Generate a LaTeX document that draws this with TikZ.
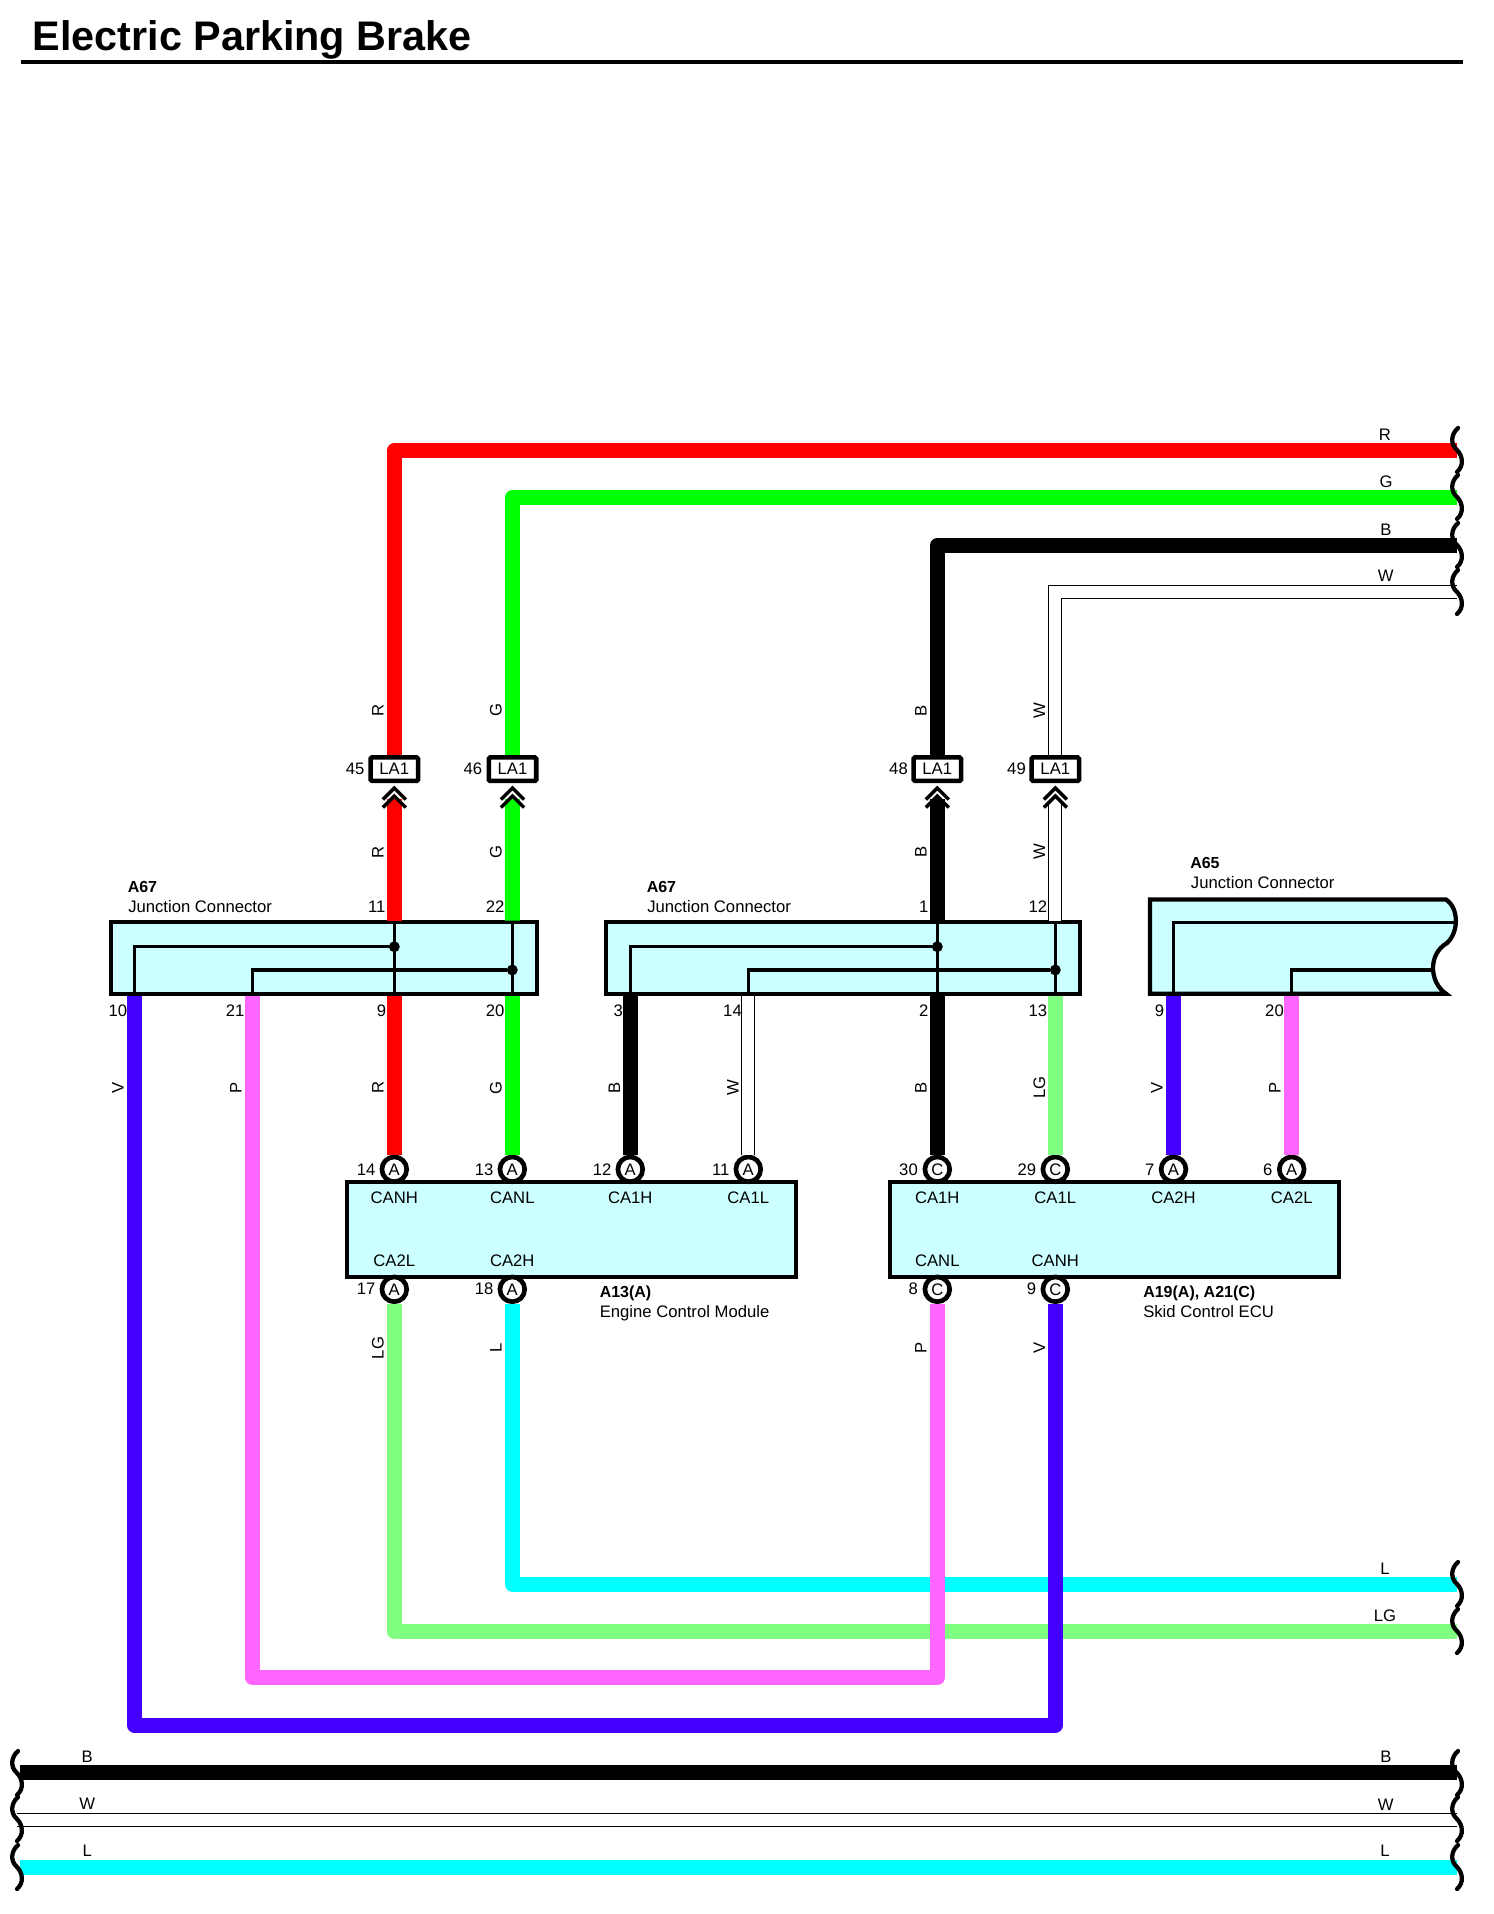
\documentclass[tikz,border=0pt]{standalone}
\usepackage{fontspec}
\setmainfont{Liberation Sans}
\usetikzlibrary{calc}

\definecolor{wireV}{HTML}{4400FF}
\definecolor{wireP}{HTML}{FF66FF}
\definecolor{wireLG}{HTML}{80FF80}
\definecolor{wireL}{HTML}{00FFFF}
\definecolor{boxfill}{HTML}{CCFFFF}

\tikzset{
    wire/.style={line width=11.25pt,line join=round},
    wirew/.style={line width=0.8pt,double=white,double distance=9pt},
    jline/.style={line width=2.3pt},
    jbox/.style={draw,line width=3.2pt,fill=boxfill,inner sep=0pt,minimum height=53.8pt},
    modbox/.style={draw,line width=3.2pt,fill=boxfill,inner sep=0pt,minimum width=336.5pt,minimum height=71pt},
    inbox/.style={draw,line width=3.4pt,fill=white,rounded corners=1pt,inner sep=0pt,minimum width=35.6pt,minimum height=17.6pt,font=\fontsize{12.5}{14}\selectfont},
    pin/.style={circle,draw,line width=3.5pt,fill=white,inner sep=0pt,minimum size=18.6pt,font=\fontsize{12.5}{14}\selectfont},
    jdot/.style={circle,fill=black,inner sep=0pt,minimum size=8.2pt},
    txt/.style={inner sep=0pt,text height=9pt,text depth=0pt,font=\fontsize{12.5}{14}\selectfont},
    ref/.style={txt,anchor=west,font=\fontsize{12}{14}\selectfont\bfseries},
    num/.style={txt,anchor=east,xshift=1pt},
    vlab/.style={txt,rotate=90},
    brk/.pic={\draw[line width=3.2pt,line cap=round] (1,-22) .. controls (-6,-16) and (-7,-6) .. (0,0) .. controls (6,6) and (7,16) .. (0,22);},
    chev/.pic={\draw[line width=2.6pt] (-11.5,16.5) -- (0,5) -- (11.5,16.5);
        \draw[line width=2.6pt] (-11.5,24.5) -- (0,13) -- (11.5,24.5);}
}

\begin{document}
\begin{tikzpicture}[x=0.75pt,y=-0.75pt]
    \useasboundingbox (0,0) rectangle (1494,1914);

    % Title
    \node[anchor=base west,inner sep=0pt,font=\fontsize{31}{36}\selectfont\bfseries] (title) at (32.5,50) {Electric Parking Brake};
    \coordinate (ruleL) at (21,62);
    \coordinate (ruleR) at (1462.5,62);
    \draw[line width=3.5pt] (ruleL) -- (ruleR);

    % Junction connectors
    \node[jbox,minimum width=319pt] (ja) at (324,957.8) {};
    \node[jbox,minimum width=355.5pt] (jb) at (842.7,957.8) {};
    \draw[line width=3.2pt,fill=boxfill,line cap=round] (1150,899.5) -- (1446,899.5)
        .. controls (1459,908) and (1459,932) .. (1447,943)
        .. controls (1428,954) and (1429,982) .. (1446,993.7) -- (1150,993.7) -- cycle;

    % Modules
    \node[modbox] (ecm) at (571.5,1229.5) {};
    \node[modbox] (skid) at (1114.5,1229.5) {};

    % Pins on the modules
    \node[pin] (a14) at (394.3,1169.3) {A};
    \node[pin] (a13) at (512.3,1169.3) {A};
    \node[pin] (a12) at (630.3,1169.3) {A};
    \node[pin] (a11) at (748.3,1169.3) {A};
    \node[pin] (c30) at (937.3,1169.3) {C};
    \node[pin] (c29) at (1055.3,1169.3) {C};
    \node[pin] (a7) at (1173.5,1169.3) {A};
    \node[pin] (a6) at (1291.7,1169.3) {A};
    \node[pin] (a17) at (394.3,1289.3) {A};
    \node[pin] (a18) at (512.3,1289.3) {A};
    \node[pin] (c8) at (937.3,1289.3) {C};
    \node[pin] (c9) at (1055.3,1289.3) {C};

    % Inline connectors
    \node[inbox] (la45) at (394.3,769.2) {LA1};
    \node[inbox] (la46) at (512.5,769.2) {LA1};
    \node[inbox] (la48) at (937.3,769.2) {LA1};
    \node[inbox] (la49) at (1055.3,769.2) {LA1};

    % Wire ends and points on the junction connectors
    \coordinate (endR) at (1457,450.5);
    \coordinate (endG) at (1457,497.7);
    \coordinate (endB) at (1457,545.3);
    \coordinate (endW) at (1457,592.3);
    \coordinate (endL) at (1457,1584);
    \coordinate (endLG) at (1457,1631.3);
    \coordinate (turnP) at (937.3,1677.4);
    \coordinate (turnV) at (1055.3,1725);
    \coordinate (busBl) at (20,1772.3);
    \coordinate (busBr) at (1457,1772.3);
    \coordinate (busWl) at (17,1819.8);
    \coordinate (busWr) at (1457,1819.8);
    \coordinate (busLl) at (20,1867.3);
    \coordinate (busLr) at (1457,1867.3);
    \coordinate (ch45) at (394.3,799);
    \coordinate (ch46) at (512.5,799);
    \coordinate (ch48) at (937.3,799);
    \coordinate (ch49) at (1055.3,803);
    \coordinate (ja11) at (394.3,920.5);
    \coordinate (ja22) at (512.3,920.5);
    \coordinate (ja9) at (394.3,995.5);
    \coordinate (ja20) at (512.3,995.5);
    \coordinate (ja10) at (134.3,995.5);
    \coordinate (ja21) at (252.3,995.5);
    \coordinate (jb1) at (937.3,920.5);
    \coordinate (jb12) at (1055.3,920.5);
    \coordinate (jb3) at (630.3,995.5);
    \coordinate (jb14) at (748.3,995.5);
    \coordinate (jb2) at (937.3,995.5);
    \coordinate (jb13) at (1055.3,995.5);
    \coordinate (jc9) at (1173.5,995.5);
    \coordinate (jc20) at (1291.7,995.5);
    \coordinate (jc1) at (1455,922.7);
    \coordinate (jc2) at (1432,970);

    % Inside the junction connectors
    \node[jdot] (da) at (394.3,946.7) {};
    \node[jdot] (db) at (512.3,970) {};
    \node[jdot] (dc) at (937.3,946.7) {};
    \node[jdot] (dd) at (1055.3,970) {};
    \draw[jline] (ja11) -- (ja9);
    \draw[jline] (ja22) -- (ja20);
    \draw[jline] (ja10) |- (da);
    \draw[jline] (ja21) |- (db);
    \draw[jline] (jb1) -- (jb2);
    \draw[jline] (jb12) -- (jb13);
    \draw[jline] (jb3) |- (dc);
    \draw[jline] (jb14) |- (dd);
    \draw[jline] (jc9) |- (jc1);
    \draw[jline] (jc20) |- (jc2);

    % Wires
    \draw[wire,red] (la45.north) |- (endR);
    \draw[wire,red] (ch45) -- (ja11);
    \draw[wire,red] (ja9) -- (a14.north);
    \draw[wire,green] (la46.north) |- (endG);
    \draw[wire,green] (ch46) -- (ja22);
    \draw[wire,green] (ja20) -- (a13.north);
    \draw[wire,black] (la48.north) |- (endB);
    \draw[wire,black] (ch48) -- (jb1);
    \draw[wire,black] (jb2) -- (c30.north);
    \draw[wire,black] (jb3) -- (a12.north);
    \draw[wirew] (la49.north) |- (endW);
    \draw[wirew] (ch49) -- (jb12);
    \draw[wirew] (jb14) -- (a11.north);
    \draw[wire,wireLG] (jb13) -- (c29.north);
    \draw[wire,wireV] (jc9) -- (a7.north);
    \draw[wire,wireP] (jc20) -- (a6.north);
    \draw[wire,wireL] (a18.south) |- (endL);
    \draw[wire,wireLG] (a17.south) |- (endLG);
    \draw[wire,wireP] (ja21) |- (turnP) -- (c8.south);
    \draw[wire,wireV] (ja10) |- (turnV) -- (c9.south);
    \draw[wire,black] (busBl) -- (busBr);
    \draw[wirew] (busWl) -- (busWr);
    \draw[wire,wireL] (busLl) -- (busLr);

    % Chevrons under the inline connectors
    \pic at (394.3,783) {chev};
    \pic at (512.5,783) {chev};
    \pic at (937.3,783) {chev};
    \pic at (1055.3,783) {chev};

    % Break marks
    \pic at (1457,450) {brk};
    \pic at (1457,497) {brk};
    \pic at (1457,545) {brk};
    \pic at (1457,592) {brk};
    \pic at (1457,1584) {brk};
    \pic at (1457,1631) {brk};
    \pic at (1457,1773) {brk};
    \pic at (1457,1819) {brk};
    \pic at (1457,1867) {brk};
    \pic at (17,1773) {brk};
    \pic at (17,1819) {brk};
    \pic at (17,1867) {brk};

    % Wire colour labels, horizontal
    \node[txt] (tR) at (1385,434) {R};
    \node[txt] (tG) at (1386,481.7) {G};
    \node[txt] (tB) at (1386,529) {B};
    \node[txt] (tW) at (1385.7,575.7) {W};
    \node[txt] (tL) at (1385,1568) {L};
    \node[txt] (tLG) at (1385,1615) {LG};
    \node[txt] (tB2) at (1386,1756.7) {B};
    \node[txt] (tW2) at (1385.7,1804) {W};
    \node[txt] (tL2) at (1385,1850.7) {L};
    \node[txt] (tB3) at (87.3,1756.7) {B};
    \node[txt] (tW3) at (87.3,1803.5) {W};
    \node[txt] (tL3) at (87.3,1850.5) {L};

    % Wire colour labels, vertical
    \node[vlab] (vR1) at (377.5,710.5) {R};
    \node[vlab] (vG1) at (495.7,710.5) {G};
    \node[vlab] (vB1) at (920.5,710.5) {B};
    \node[vlab] (vW1) at (1039,710.5) {W};
    \node[vlab] (vR2) at (377.5,852) {R};
    \node[vlab] (vG2) at (495.7,852) {G};
    \node[vlab] (vB2) at (920.5,852) {B};
    \node[vlab] (vW2) at (1039,852) {W};
    \node[vlab] (vV1) at (117.5,1087.7) {V};
    \node[vlab] (vP1) at (235.6,1087.7) {P};
    \node[vlab] (vR3) at (377.5,1087.7) {R};
    \node[vlab] (vG3) at (495.7,1087.7) {G};
    \node[vlab] (vB3) at (614,1087.7) {B};
    \node[vlab] (vW3) at (732.5,1087.7) {W};
    \node[vlab] (vB4) at (920.5,1087.7) {B};
    \node[vlab] (vLG1) at (1039,1087.7) {LG};
    \node[vlab] (vV2) at (1156.5,1087.7) {V};
    \node[vlab] (vP2) at (1274.5,1087.7) {P};
    \node[vlab] (vLG2) at (377.5,1348) {LG};
    \node[vlab] (vL) at (495.7,1348) {L};
    \node[vlab] (vP3) at (920.5,1348) {P};
    \node[vlab] (vV3) at (1039,1348) {V};

    % Terminal numbers
    \node[num] (n45) at (363.3,768.3) {45};
    \node[num] (n46) at (481,768.3) {46};
    \node[num] (n48) at (906.7,768.3) {48};
    \node[num] (n49) at (1024.7,768.3) {49};
    \node[num] (na11) at (384.3,906.7) {11};
    \node[num] (na22) at (503.3,906.7) {22};
    \node[num] (nb1) at (927.3,906.7) {1};
    \node[num] (nb12) at (1046,906.7) {12};
    \node[num] (na10) at (126,1010) {10};
    \node[num] (na21) at (243.3,1010) {21};
    \node[num] (na9) at (385,1010) {9};
    \node[num] (na20) at (503.3,1010) {20};
    \node[num] (nb3) at (621.7,1010) {3};
    \node[num] (nb14) at (740.7,1010) {14};
    \node[num] (nb2) at (927.3,1010) {2};
    \node[num] (nb13) at (1046,1010) {13};
    \node[num] (nc9) at (1163,1010) {9};
    \node[num] (nc20) at (1282.7,1010) {20};
    \node[num] (n14) at (374.3,1169) {14};
    \node[num] (n13) at (492.3,1169) {13};
    \node[num] (n12) at (610.3,1169) {12};
    \node[num] (n11) at (728.3,1169) {11};
    \node[num] (n30) at (916.7,1169) {30};
    \node[num] (n29) at (1035,1169) {29};
    \node[num] (n7) at (1153.3,1169) {7};
    \node[num] (n6) at (1271.3,1169) {6};
    \node[num] (n17) at (374.3,1288.3) {17};
    \node[num] (n18) at (492.3,1288.3) {18};
    \node[num] (n8) at (916.7,1288.3) {8};
    \node[num] (n9) at (1035,1288.3) {9};

    % Signal names in the modules
    \node[txt] (s1) at (394.3,1197.7) {CANH};
    \node[txt] (s2) at (512.3,1197.7) {CANL};
    \node[txt] (s3) at (630.3,1197.7) {CA1H};
    \node[txt] (s4) at (748.3,1197.7) {CA1L};
    \node[txt] (s5) at (937.3,1197.7) {CA1H};
    \node[txt] (s6) at (1055.3,1197.7) {CA1L};
    \node[txt] (s7) at (1173.5,1197.7) {CA2H};
    \node[txt] (s8) at (1291.7,1197.7) {CA2L};
    \node[txt] (s9) at (394.3,1260.7) {CA2L};
    \node[txt] (s10) at (512.3,1260.7) {CA2H};
    \node[txt] (s11) at (937.3,1260.7) {CANL};
    \node[txt] (s12) at (1055.3,1260.7) {CANH};

    % Component names
    \node[ref] (ra) at (127.5,886) {A67};
    \node[txt,anchor=west] (ca) at (128,906.7) {Junction Connector};
    \node[ref] (rb) at (646.5,886) {A67};
    \node[txt,anchor=west] (cb) at (647,906.7) {Junction Connector};
    \node[ref] (rc) at (1190,862.3) {A65};
    \node[txt,anchor=west] (cc) at (1190.7,882.7) {Junction Connector};
    \node[ref] (rd) at (599.5,1291.7) {A13(A)};
    \node[txt,anchor=west] (cd) at (599.5,1311.7) {Engine Control Module};
    \node[ref] (re) at (1143,1291.7) {A19(A), A21(C)};
    \node[txt,anchor=west] (ce) at (1143,1311.7) {Skid Control ECU};
\end{tikzpicture}
\end{document}
